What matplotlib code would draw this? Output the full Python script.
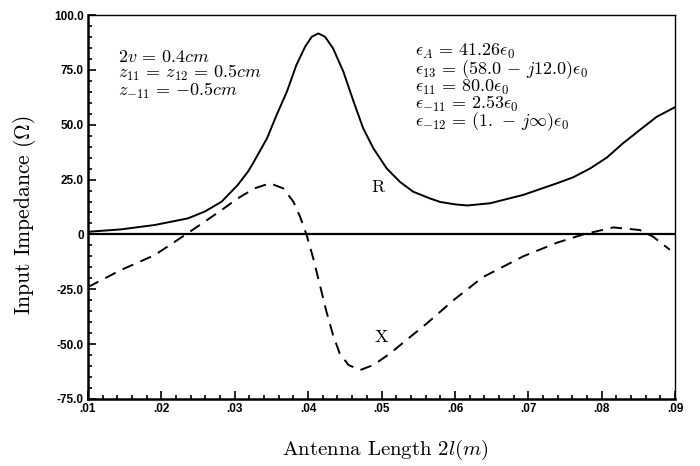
import matplotlib
matplotlib.use('Agg')
import matplotlib.pyplot as plt
from matplotlib.ticker import MultipleLocator

# resistance R (solid)
r_len = [0.010, 0.0145, 0.0191, 0.0236, 0.0259, 0.0282, 0.0304, 0.0318, 0.0325, 0.0344,
         0.0357, 0.0371, 0.0384, 0.0396, 0.0405, 0.0414, 0.0423, 0.0434, 0.0448, 0.0462,
         0.0475, 0.0489, 0.0507, 0.0525, 0.0543, 0.0566, 0.058, 0.060, 0.0617, 0.0648,
         0.0693, 0.0739, 0.0761, 0.0784, 0.0807, 0.0829, 0.0852, 0.0875, 0.090]
r_val = [1.2, 2.3, 4.3, 7.3, 10.4, 14.9, 22.5, 28.6, 32.5, 43.8,
         54.4, 65.0, 77.2, 85.6, 90.1, 91.6, 90.1, 84.8, 74.2, 60.5,
         48.4, 39.2, 30.1, 24.0, 19.5, 16.4, 14.8, 13.7, 13.2, 14.2,
         18.0, 23.3, 26.0, 30.0, 35.0, 41.5, 47.6, 53.6, 58.0]

# reactance X (dashed)
x_len = [0.010, 0.0145, 0.0191, 0.0232, 0.0259, 0.0282, 0.0304, 0.0327, 0.0348, 0.0366,
         0.038, 0.0389, 0.0398, 0.0407, 0.0416, 0.0425, 0.0434, 0.0443, 0.0455, 0.0471,
         0.0489, 0.0512, 0.0534, 0.0562, 0.0598, 0.0638, 0.0693, 0.0739, 0.0775, 0.0816,
         0.0852, 0.087, 0.0893]
x_val = [-24.0, -16.2, -9.4, -0.3, 5.8, 11.1, 16.4, 21.0, 23.3, 21.0,
         14.9, 8.1, -0.3, -10.9, -23.0, -35.2, -45.9, -54.2, -59.5, -61.8,
         -59.5, -54.2, -48.1, -40.5, -30.0, -19.5, -10.0, -3.8, 0.0, 3.2,
         2.0, -1.0, -7.0]

xticks = [0.01, 0.02, 0.03, 0.04, 0.05, 0.06, 0.07, 0.08, 0.09]
xticklabels = ['.01', '.02', '.03', '.04', '.05', '.06', '.07', '.08', '.09']
yticks = [100, 75, 50, 25, 0, -25, -50, -75]
yticklabels = ['100.0', '75.0', '50.0', '25.0', '0', '-25.0', '-50.0', '-75.0']

left_notes = [r'$2v\,=\,0.4cm$', r'$z_{11}\,=\,z_{12}\,=\,0.5cm$', r'$z_{-11}\,=\,{-}0.5cm$']
right_notes = [r'$\epsilon_A\,=\,\mathbf{41.26}\epsilon_0$',
               r'$\epsilon_{13}\,=\,(\mathbf{58.0}\,-\,j\mathbf{12.0})\epsilon_0$',
               r'$\epsilon_{11}\,=\,\mathbf{80.0}\epsilon_0$',
               r'$\epsilon_{-11}\,=\,\mathbf{2.53}\epsilon_0$',
               r'$\epsilon_{-12}\,=\,(\mathbf{1.}\,-\,j\infty)\epsilon_0$']

matplotlib.rcParams['mathtext.fontset'] = 'cm'
matplotlib.rcParams['axes.unicode_minus'] = False

fig = plt.figure(figsize=(7, 4.66), dpi=100)
ax = fig.add_axes([0.1257, 0.1438, 0.8386, 0.824])

ax.axhline(0, color='black', lw=1.6)
ax.plot(r_len, r_val, color='black', lw=1.4)
ax.plot(x_len, x_val, color='black', lw=1.4, ls=(0, (6, 4)))

ax.set_xlim(0.01, 0.09)
ax.set_ylim(-75, 100)
ax.set_xticks(xticks)
ax.set_xticklabels(xticklabels)
ax.set_yticks(yticks)
ax.set_yticklabels(yticklabels)
ax.xaxis.set_minor_locator(MultipleLocator(0.002))
ax.yaxis.set_minor_locator(MultipleLocator(5))
ax.tick_params(which='both', direction='in', top=False, right=False, width=1.2)
ax.tick_params(which='major', length=6, pad=3)
ax.tick_params(which='minor', length=3)
for lab in ax.get_xticklabels() + ax.get_yticklabels():
    lab.set_fontfamily('Liberation Sans')
    lab.set_fontweight('bold')
    lab.set_fontsize(8.5)

ax.spines['left'].set_linewidth(1.8)
ax.spines['bottom'].set_linewidth(1.8)
ax.spines['top'].set_linewidth(1.0)
ax.spines['right'].set_linewidth(1.0)

ax.text(0.051, 0.915, '\n'.join(left_notes), transform=ax.transAxes,
        fontsize=13, va='top', ha='left', linespacing=0.85)
ax.text(0.557, 0.93, '\n'.join(right_notes), transform=ax.transAxes,
        fontsize=13, va='top', ha='left', linespacing=0.8)

ax.text(0.0495, 21.6, 'R', family='cmr10', fontsize=13, ha='center', va='center')
ax.text(0.0500, -46.7, 'X', family='cmr10', fontsize=13, ha='center', va='center')

fig.text(0.035, 0.539, r'Input Impedance $(\Omega)$', family='cmr10', fontsize=15.5,
         rotation=90, ha='center', va='center')
fig.text(0.551, 0.034, r'Antenna Length $2l(m)$', family='cmr10', fontsize=15,
         ha='center', va='center')

fig.savefig('out.png', dpi=100)
